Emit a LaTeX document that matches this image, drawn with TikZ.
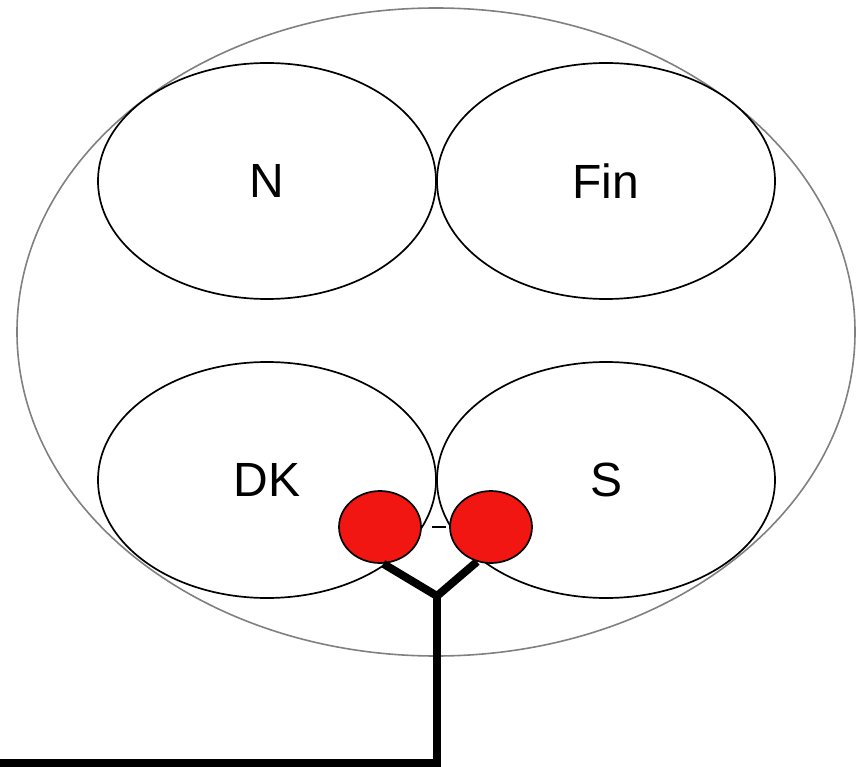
\documentclass[tikz,border=0pt]{standalone}
\usepackage{fontspec}
\setmainfont{Liberation Sans}
\usetikzlibrary{shapes.geometric}
\begin{document}
\begin{tikzpicture}[x=1pt,y=-1pt,
  outerell/.style={ellipse,draw=gray,line width=1.6pt,minimum width=838pt,minimum height=648pt,inner sep=0pt},
  innerell/.style={ellipse,draw=black,fill=white,line width=1.7pt,minimum width=338pt,minimum height=236pt,inner sep=0pt,font=\fontsize{48}{52}\selectfont},
  reddot/.style={ellipse,draw=black,fill={rgb,255:red,242;green,22;blue,18},line width=1.7pt,minimum width=82pt,minimum height=72pt,inner sep=0pt},
  thick line/.style={line width=8pt,line join=miter,black}]
\useasboundingbox (0,0) rectangle (856,767);
\node[outerell] (outer) at (436,332) {};
\node[innerell] (N) at (267,181) {N};
\node[innerell] (Fin) at (606,181) {Fin};
\node[innerell] (DK) at (267,480) {DK};
\node[innerell] (S) at (606,480) {S};
\node[reddot] (rl) at (380,527) {};
\node[reddot] (rr) at (491,527) {};
\draw[line width=1.7pt] ([xshift=10pt]rl.east) -- ([xshift=-3pt]rr.west);
\coordinate (j) at (437,596);
\coordinate (c) at (437,763);
\coordinate (e) at (0,763);
\draw[thick line] (rl.275) -- (j) -- (rr.248);
\draw[thick line] (j) -- (c) -- (e);
\end{tikzpicture}
\end{document}
